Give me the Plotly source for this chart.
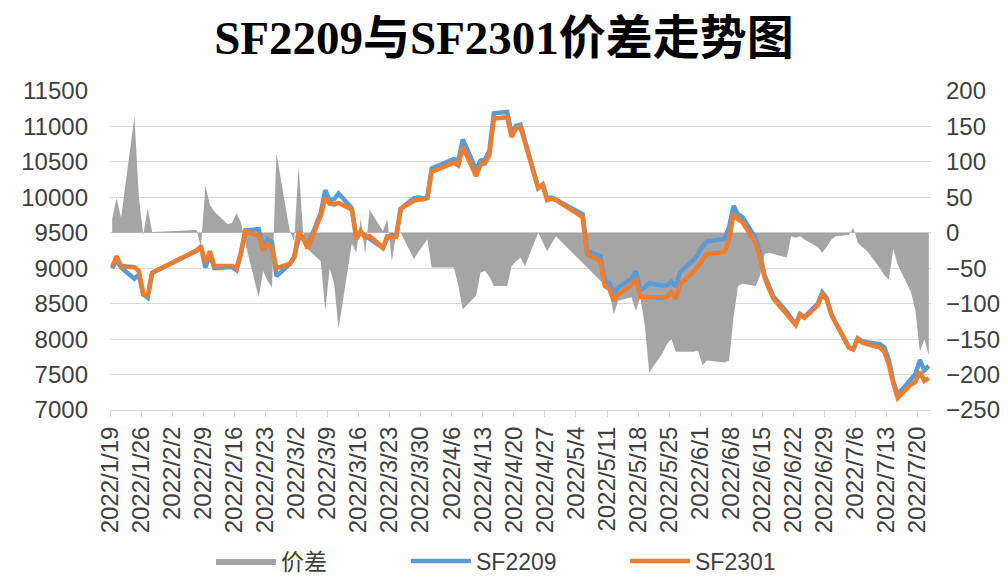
import pandas as pd
import plotly.graph_objects as go

DATES = [
    "2022-01-19", "2022-01-20", "2022-01-21", "2022-01-24", "2022-01-25", "2022-01-26", "2022-01-27", "2022-01-28",
    "2022-02-07", "2022-02-08", "2022-02-09", "2022-02-10", "2022-02-11", "2022-02-14", "2022-02-15", "2022-02-16",
    "2022-02-17", "2022-02-18", "2022-02-21", "2022-02-22", "2022-02-23", "2022-02-24", "2022-02-25", "2022-02-28",
    "2022-03-01", "2022-03-02", "2022-03-03", "2022-03-04", "2022-03-07", "2022-03-08", "2022-03-09", "2022-03-10",
    "2022-03-11", "2022-03-14", "2022-03-15", "2022-03-16", "2022-03-17", "2022-03-18", "2022-03-21", "2022-03-22",
    "2022-03-23", "2022-03-24", "2022-03-25", "2022-03-28", "2022-03-29", "2022-03-30", "2022-03-31",
    "2022-04-01", "2022-04-06", "2022-04-07", "2022-04-08", "2022-04-11", "2022-04-12", "2022-04-13", "2022-04-14",
    "2022-04-15", "2022-04-18", "2022-04-19", "2022-04-20", "2022-04-21", "2022-04-22", "2022-04-25", "2022-04-26",
    "2022-04-27", "2022-04-28", "2022-04-29",
    "2022-05-05", "2022-05-06", "2022-05-09", "2022-05-10", "2022-05-11", "2022-05-12", "2022-05-13", "2022-05-16",
    "2022-05-17", "2022-05-18", "2022-05-19", "2022-05-20", "2022-05-23", "2022-05-24", "2022-05-25", "2022-05-26",
    "2022-05-27", "2022-05-30", "2022-05-31",
    "2022-06-01", "2022-06-02", "2022-06-06", "2022-06-07", "2022-06-08", "2022-06-09", "2022-06-10", "2022-06-13",
    "2022-06-14", "2022-06-15", "2022-06-16", "2022-06-17", "2022-06-20", "2022-06-21", "2022-06-22", "2022-06-23",
    "2022-06-24", "2022-06-27", "2022-06-28", "2022-06-29", "2022-06-30",
    "2022-07-01", "2022-07-04", "2022-07-05", "2022-07-06", "2022-07-07", "2022-07-08", "2022-07-11", "2022-07-12",
    "2022-07-13", "2022-07-14", "2022-07-15", "2022-07-18", "2022-07-19", "2022-07-20", "2022-07-21", "2022-07-22",
]

SF2301 = [
    9020, 9170, 9030, 9015, 8960, 8630, 8620, 8935,
    9250, 9290, 9076, 9240, 9030, 9030, 9030, 9000, 9220, 9520, 9460, 9250, 9340, 9290, 9000, 9060,
    9150, 9510, 9430, 9280, 9740, 9990, 9910, 9900, 9920, 9830, 9406, 9523, 9430, 9453, 9288, 9450, 9430, 9450,
    9840, 9950, 9970, 9970, 9990,
    10360, 10490, 10450, 10710, 10300, 10460, 10480, 10600, 11110, 11130, 10850, 10970, 10990, 10760, 10130, 10170,
    9960, 9980, 9960,
    9720, 9200, 9100, 8750, 8710, 8540, 8630, 8760, 8850, 8595, 8600, 8590, 8585, 8600, 8660, 8570, 8780, 8950, 9030,
    9120, 9200, 9230, 9400, 9760, 9690, 9650, 9350, 9140, 8870, 8710, 8570, 8350, 8280, 8200, 8350, 8300, 8480,
    8630, 8560, 8350,
    8230, 7880, 7860, 8000, 7950, 7930, 7880, 7820, 7640, 7380, 7170, 7360, 7400, 7540, 7410, 7450,
]

SF2209 = [
    9000, 9121, 9009, 8851, 8910, 8633, 8585, 8934,
    9246, 9310, 9010, 9200, 9000, 9018, 9016, 8972, 9205, 9535, 9551, 9304, 9408, 9367, 8888, 9057,
    9162, 9416, 9428, 9303, 9780, 10100, 9960, 9972, 10055, 9845, 9434, 9503, 9460, 9420, 9286, 9431, 9470, 9452,
    9840, 9987, 9997, 9988, 9999,
    10409, 10539, 10525, 10818, 10389, 10516, 10534, 10662, 11185, 11205, 10897, 11010, 11025, 10807, 10130, 10182,
    9986, 9995, 9965,
    9762, 9249, 9168, 8824, 8790, 8655, 8726, 8851, 8960, 8686, 8730, 8787, 8755, 8757, 8810, 8738, 8948, 9118, 9196,
    9307, 9380, 9413, 9580, 9880, 9765, 9722, 9425, 9200, 8900, 8738, 8600, 8385, 8285, 8207, 8355, 8310, 8500,
    8658, 8580, 8360,
    8235, 7883, 7853, 8014, 7970, 7955, 7930, 7880, 7706, 7403, 7215, 7444, 7510, 7708, 7560, 7623,
]

SPREAD = [
    20, 49, 21, 164, 50, -3, 35, 1,
    4, -20, 66, 40, 30, 12, 14, 28, 15, -15, -91, -54, -68, -77, 112, 3,
    -12, 94, 2, -23, -40, -110, -50, -72, -135, -15, -28, 20, -30, 33, 2, 19, -40, -2,
    0, -37, -27, -18, -9,
    -49, -49, -75, -108, -89, -56, -54, -62, -75, -75, -47, -40, -35, -47, 0, -12,
    -26, -15, -5,
    None, None, None, None, -80, -115, -96, -91, -110, -91, -130, -197, -170, -157, -150, -168, -168, -168, -166,
    -187, -180, -183, -180, -120, -75, -72, -75, -60, -30, -28, -30, -35, -5, -7, -5, -10, -20,
    -28, -20, -10,
    -5, -3, 7, -14, -20, -25, -50, -60, -66, -23, -45, -84, -110, -168, -150, -173,
]

TICK_LABELS = [
    "2022/1/19", "2022/1/26", "2022/2/2", "2022/2/9", "2022/2/16", "2022/2/23", "2022/3/2", "2022/3/9",
    "2022/3/16", "2022/3/23", "2022/3/30", "2022/4/6", "2022/4/13", "2022/4/20", "2022/4/27", "2022/5/4",
    "2022/5/11", "2022/5/18", "2022/5/25", "2022/6/1", "2022/6/8", "2022/6/15", "2022/6/22", "2022/6/29",
    "2022/7/6", "2022/7/13", "2022/7/20",
]

TITLE = "SF2209与SF2301价差走势图"

x = pd.to_datetime(DATES)
half_day = pd.Timedelta(hours=12)
tickvals = pd.to_datetime(TICK_LABELS, format="%Y/%m/%d") - half_day

SANS = "Liberation Sans, Noto Sans CJK SC, sans-serif"
TXT = "#404040"
GRID = "#D9D9D9"
LEG_Y = 1 - 561 / 577

fig = go.Figure()
fig.add_trace(go.Scatter(
    x=x, y=SPREAD, name="价差", mode="lines", fill="tozeroy",
    line=dict(width=0, color="#A5A5A5"), fillcolor="#A5A5A5",
    connectgaps=True, yaxis="y", legend="legend",
))
fig.add_trace(go.Scatter(
    x=x, y=SF2209, name="SF2209", mode="lines",
    line=dict(width=4.5, color="#5B9BD5"), yaxis="y2", legend="legend2",
))
fig.add_trace(go.Scatter(
    x=x, y=SF2301, name="SF2301", mode="lines",
    line=dict(width=4.5, color="#ED7D31"), yaxis="y2", legend="legend2",
))

legend_common = dict(
    orientation="h", xref="container", yref="container",
    xanchor="left", y=LEG_Y, yanchor="middle",
    font=dict(family=SANS, size=23, color=TXT),
    itemwidth=60, traceorder="normal", bgcolor="rgba(0,0,0,0)",
)

fig.update_layout(
    width=1008, height=577,
    margin=dict(l=110, r=77, t=91, b=167, autoexpand=False),
    paper_bgcolor="white", plot_bgcolor="white",
    title=dict(
        text=TITLE, x=0.5, xanchor="center", y=1 - 38 / 577, yanchor="middle",
        font=dict(family="Liberation Serif, Noto Sans CJK SC, serif", size=47, color="#000000", weight="bold"),
    ),
    xaxis=dict(
        range=[x.min() - half_day, x.max() + half_day],
        tickvals=tickvals, ticktext=TICK_LABELS, tickangle=-90,
        tickfont=dict(family=SANS, size=24, color=TXT),
        showgrid=False, showline=True, linecolor=GRID, linewidth=1,
        ticks="outside", ticklen=6, tickcolor=GRID,
        zeroline=False, automargin=False,
    ),
    yaxis=dict(
        side="right", range=[-250, 200], tick0=-250, dtick=50, tickformat="d",
        tickfont=dict(family=SANS, size=24, color=TXT),
        showgrid=True, gridcolor=GRID, gridwidth=1.2, zeroline=False,
        showline=False, ticks="", ticklabelstandoff=14, automargin=False,
    ),
    yaxis2=dict(
        side="left", overlaying="y", range=[7000, 11500], tick0=7000, dtick=500, tickformat="d",
        tickfont=dict(family=SANS, size=24, color=TXT),
        showgrid=False, zeroline=False, showline=False, ticks="", ticklabelstandoff=21,
        automargin=False,
    ),
    legend=dict(legend_common, x=211 / 1008),
    legend2=dict(legend_common, x=406 / 1008, entrywidth=144),
    showlegend=True,
)

fig.write_html(
    "out.html",
    config={"displayModeBar": False},
    post_script="document.body.style.margin='0';document.body.style.padding='0';",
)
